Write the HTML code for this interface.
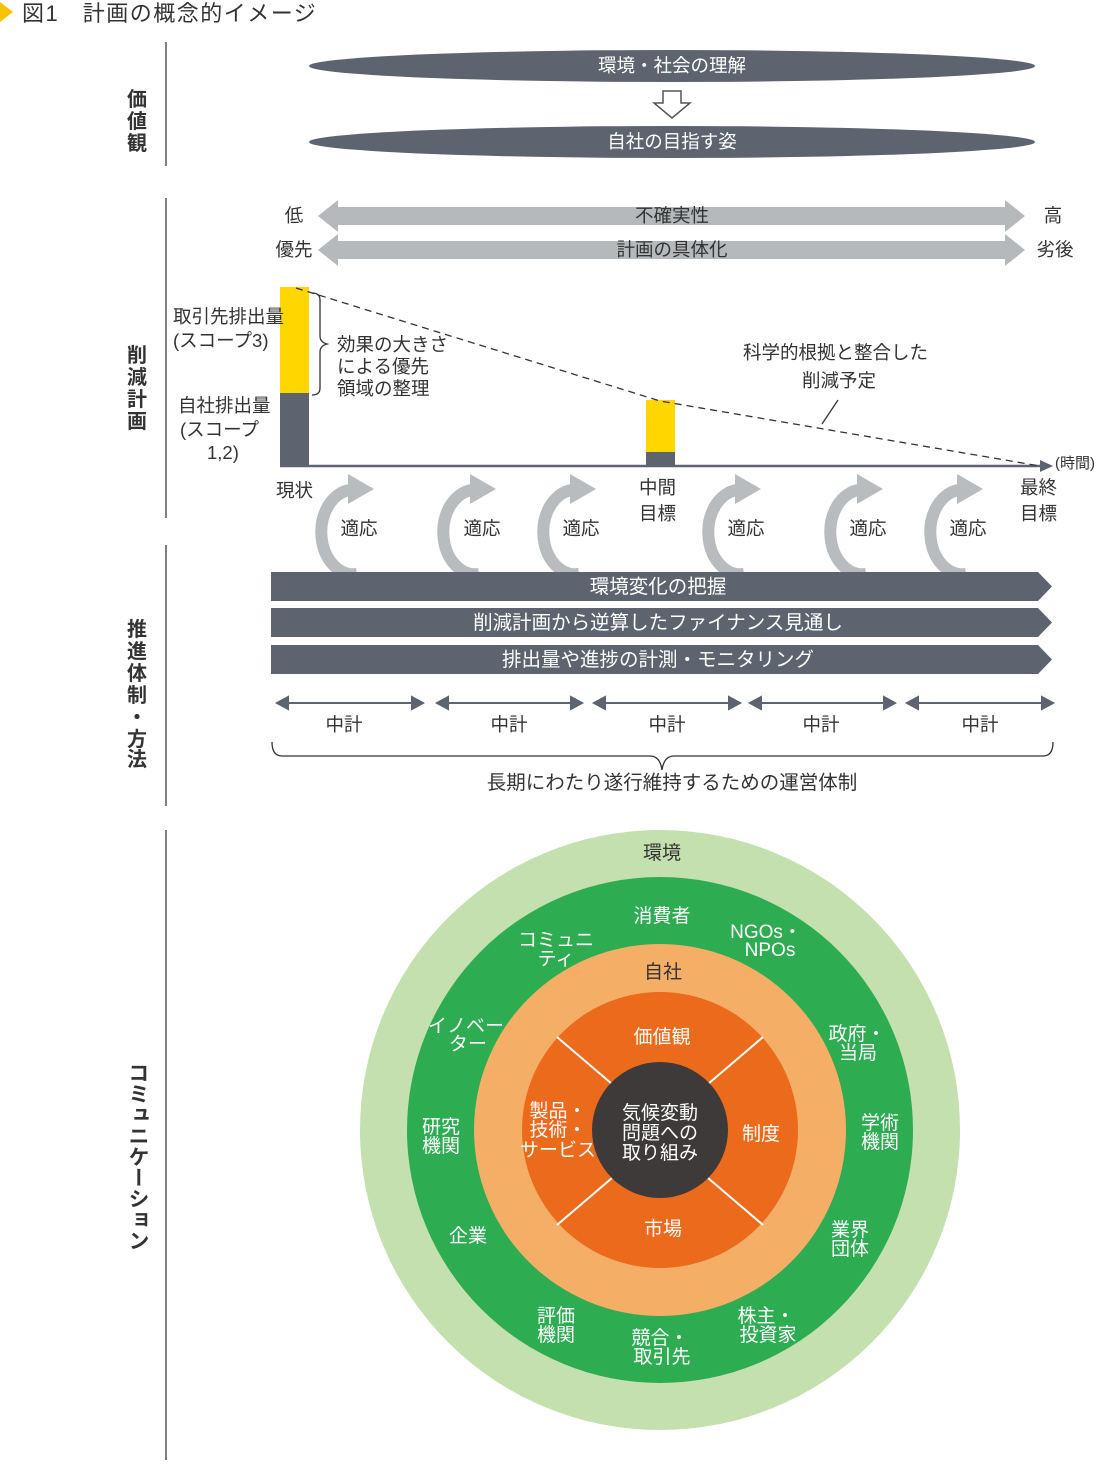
<!DOCTYPE html>
<html><head><meta charset="utf-8"><style>
html,body{margin:0;padding:0;background:#fff;}
svg text{font-family:"Liberation Sans","Noto Sans CJK JP",sans-serif;}
.vt{position:absolute;left:126px;top:1062px;writing-mode:vertical-rl;font-family:"Liberation Sans","Noto Sans CJK JP",sans-serif;font-size:21px;font-weight:bold;color:#333;letter-spacing:0px;line-height:22px;}
</style></head><body>
<div class="vt">コミュニケーション</div>
<svg width="1100" height="1461" viewBox="0 0 1100 1461" xmlns="http://www.w3.org/2000/svg">
<defs>
<g id="ca">
<path d="M 5 44 A 32 42 0 0 1 -2 -40" fill="none" stroke="#b8bcbe" stroke-width="12"/>
<polygon points="-4,-56 22,-41 -4,-26" fill="#b8bcbe"/>
</g>
</defs>
<polygon points="0,2 13,12 0,22" fill="#f5c400"/>
<text x="22" y="21" font-size="22" letter-spacing="1.5" fill="#333">図1　計画の概念的イメージ</text>

<g stroke="#555" stroke-width="1.5">
<line x1="166" y1="42" x2="166" y2="166"/>
<line x1="166" y1="198" x2="166" y2="518"/>
<line x1="166" y1="545" x2="166" y2="806"/>
<line x1="166" y1="830" x2="166" y2="1460"/>
</g>
<g font-size="20" fill="#333" font-weight="bold" text-anchor="middle">
<text x="137" y="106">価</text><text x="137" y="128">値</text><text x="137" y="150">観</text>
<text x="137" y="362">削</text><text x="137" y="384">減</text><text x="137" y="406">計</text><text x="137" y="428">画</text>
<text x="137" y="636">推</text><text x="137" y="658">進</text><text x="137" y="680">体</text><text x="137" y="702">制</text><text x="137" y="724">・</text><text x="137" y="746">方</text><text x="137" y="766">法</text>
</g>

<ellipse cx="672" cy="66" rx="363" ry="16" fill="#5d6470"/>
<ellipse cx="672" cy="142" rx="363" ry="16" fill="#5d6470"/>
<text x="672" y="72" font-size="18.5" fill="#fff" text-anchor="middle">環境・社会の理解</text>
<text x="672" y="148" font-size="18.5" fill="#fff" text-anchor="middle">自社の目指す姿</text>
<polygon points="663,91 681,91 681,103 690,103 672,118 654,103 663,103" fill="#fff" stroke="#555" stroke-width="1.5"/>

<g fill="#b5b9bc">
<polygon points="318,216 338,200 338,207 1005,207 1005,200 1025,216 1005,232 1005,225 338,225 338,232"/>
<polygon points="318,250 338,234 338,241 1005,241 1005,234 1025,250 1005,266 1005,259 338,259 338,266"/>
</g>
<text x="672" y="222" font-size="18.5" fill="#333" text-anchor="middle">不確実性</text>
<text x="672" y="256" font-size="18.5" fill="#333" text-anchor="middle">計画の具体化</text>
<g font-size="18.5" fill="#333" text-anchor="middle">
<text x="294" y="222">低</text><text x="1053" y="222">高</text>
<text x="294" y="256">優先</text><text x="1055" y="256">劣後</text>
</g>

<rect x="280" y="287" width="29" height="106" fill="#ffd600"/>
<rect x="280" y="393" width="29" height="73" fill="#5d6470"/>
<rect x="646" y="400" width="29" height="52" fill="#ffd600"/>
<rect x="646" y="452" width="29" height="14" fill="#5d6470"/>
<line x1="280" y1="466" x2="1040" y2="466" stroke="#5d6470" stroke-width="2.5"/>
<polygon points="1040,460 1053,466 1040,472" fill="#5d6470"/>
<text x="1055" y="468" font-size="15" fill="#333">(時間)</text>
<polyline points="296,288 660,401 1040,466" fill="none" stroke="#333" stroke-width="1.3" stroke-dasharray="7,5"/>
<path d="M 312 293 Q 320 293 320 300 L 320 336 Q 320 342 327 344 Q 320 346 320 352 L 320 388 Q 320 395 312 395" fill="none" stroke="#333" stroke-width="1.3"/>
<g font-size="18.5" fill="#333">
<text x="173" y="323">取引先排出量</text>
<text x="173" y="347">(スコープ3)</text>
<text x="178" y="412">自社排出量</text>
<text x="180" y="436">(スコープ</text>
<text x="207" y="459">1,2)</text>
<text x="337" y="351">効果の大きさ</text>
<text x="337" y="373">による優先</text>
<text x="337" y="395">領域の整理</text>
<text x="743" y="359">科学的根拠と整合した</text>
<text x="802" y="387">削減予定</text>
<text x="276" y="497">現状</text>
<text x="639" y="494">中間</text>
<text x="639" y="520">目標</text>
<text x="1020" y="494">最終</text>
<text x="1020" y="520">目標</text>
</g>
<line x1="838" y1="400" x2="822" y2="424" stroke="#333" stroke-width="1.3"/>

<use href="#ca" x="352" y="530"/>
<use href="#ca" x="474" y="530"/>
<use href="#ca" x="574" y="530"/>
<use href="#ca" x="739" y="530"/>
<use href="#ca" x="861" y="530"/>
<use href="#ca" x="961" y="530"/>
<g font-size="18.5" fill="#333" text-anchor="middle">
<text x="359" y="535">適応</text><text x="482" y="535">適応</text><text x="581" y="535">適応</text>
<text x="746" y="535">適応</text><text x="868" y="535">適応</text><text x="968" y="535">適応</text>
</g>

<g fill="#5d6470">
<polygon points="271,572 1038,572 1052,586.5 1038,601 271,601"/>
<polygon points="271,608 1038,608 1052,622.5 1038,637 271,637"/>
<polygon points="271,645 1038,645 1052,659.5 1038,674 271,674"/>
</g>
<g font-size="19.5" fill="#fff" text-anchor="middle">
<text x="658" y="593">環境変化の把握</text>
<text x="658" y="629">削減計画から逆算したファイナンス見通し</text>
<text x="658" y="666">排出量や進捗の計測・モニタリング</text>
</g>

<g stroke="#5d6470" stroke-width="2" fill="#5d6470">
<line x1="285" y1="703" x2="415" y2="703"/><polygon points="277,703 288,697 288,709"/><polygon points="423,703 412,697 412,709"/>
<line x1="445" y1="703" x2="574" y2="703"/><polygon points="437,703 448,697 448,709"/><polygon points="582,703 571,697 571,709"/>
<line x1="602" y1="703" x2="732" y2="703"/><polygon points="594,703 605,697 605,709"/><polygon points="740,703 729,697 729,709"/>
<line x1="758" y1="703" x2="887" y2="703"/><polygon points="750,703 761,697 761,709"/><polygon points="895,703 884,697 884,709"/>
<line x1="915" y1="703" x2="1045" y2="703"/><polygon points="907,703 918,697 918,709"/><polygon points="1053,703 1042,697 1042,709"/>
</g>
<g font-size="18.5" fill="#333" text-anchor="middle">
<text x="344" y="731">中計</text><text x="509" y="731">中計</text><text x="667" y="731">中計</text><text x="821" y="731">中計</text><text x="980" y="731">中計</text>
</g>
<path d="M 272 742 Q 272 756 282 756 L 650 756 Q 660 756 662 770 Q 664 756 674 756 L 1043 756 Q 1053 756 1053 742" fill="none" stroke="#333" stroke-width="1.3"/>
<text x="672" y="789" font-size="19.5" fill="#333" text-anchor="middle">長期にわたり遂行維持するための運営体制</text>

<circle cx="660" cy="1130" r="300" fill="#c3e0ae"/>
<circle cx="660" cy="1130" r="253" fill="#2eac52"/>
<circle cx="660" cy="1130" r="186" fill="#f5ae66"/>
<circle cx="660" cy="1130" r="138" fill="#ec6a1c"/>
<g stroke="#fff" stroke-width="2">
<line x1="557" y1="1037" x2="612" y2="1084"/>
<line x1="763" y1="1037" x2="708" y2="1084"/>
<line x1="557" y1="1225" x2="612" y2="1178"/>
<line x1="763" y1="1225" x2="708" y2="1178"/>
</g>
<circle cx="660" cy="1130" r="68" fill="#3e3a39"/>
<g font-size="19" text-anchor="middle">
<text x="662" y="859" fill="#333">環境</text>
<text x="663" y="978" fill="#333">自社</text>
</g>
<g font-size="19" fill="#fff" text-anchor="middle">
<text x="662" y="922">消費者</text>
<text x="556" y="946">コミュニ</text><text x="556" y="965">ティ</text>
<text x="766" y="938">NGOs・</text><text x="770" y="956">NPOs</text>
<text x="466" y="1032">イノベー</text><text x="468" y="1050">ター</text>
<text x="857" y="1040">政府・</text><text x="858" y="1059">当局</text>
<text x="441" y="1133">研究</text><text x="441" y="1152">機関</text>
<text x="880" y="1129">学術</text><text x="880" y="1148">機関</text>
<text x="468" y="1242">企業</text>
<text x="850" y="1236">業界</text><text x="850" y="1255">団体</text>
<text x="556" y="1322">評価</text><text x="556" y="1341">機関</text>
<text x="766" y="1322">株主・</text><text x="768" y="1341">投資家</text>
<text x="660" y="1344">競合・</text><text x="662" y="1363">取引先</text>
<text x="662" y="1043">価値観</text>
<text x="761" y="1140">制度</text>
<text x="663" y="1235">市場</text>
<text x="558" y="1117">製品・</text><text x="558" y="1136">技術・</text><text x="558" y="1156">サービス</text>
<text x="660" y="1119">気候変動</text><text x="660" y="1139">問題への</text><text x="660" y="1159">取り組み</text>
</g>
</svg>
</body></html>
